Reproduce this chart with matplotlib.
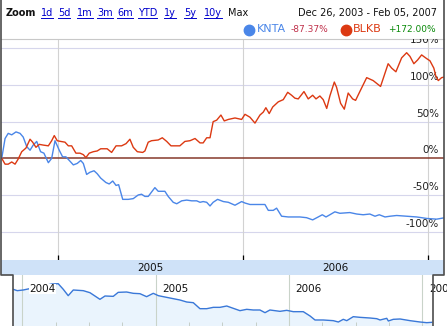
import matplotlib
matplotlib.use("Agg")
import matplotlib.pyplot as plt
from matplotlib.lines import Line2D
from matplotlib.transforms import IdentityTransform

# main chart: % change since start of range, x in fractional years
knta_year = [2004.696, 2004.714, 2004.731, 2004.750, 2004.773, 2004.795, 2004.812, 2004.831, 2004.849, 2004.866,
             2004.885, 2004.906, 2004.924, 2004.948, 2004.966, 2004.984, 2005.007, 2005.025, 2005.043, 2005.065,
             2005.083, 2005.104, 2005.123, 2005.137, 2005.155, 2005.173, 2005.195, 2005.212, 2005.231, 2005.259,
             2005.277, 2005.296, 2005.314, 2005.328, 2005.350, 2005.380, 2005.407, 2005.434, 2005.452, 2005.470,
             2005.488, 2005.524, 2005.542, 2005.578, 2005.596, 2005.623, 2005.642, 2005.669, 2005.696, 2005.723,
             2005.750, 2005.768, 2005.785, 2005.804, 2005.822, 2005.839, 2005.863, 2005.894, 2005.921, 2005.957,
             2005.993, 2006.011, 2006.038, 2006.119, 2006.137, 2006.164, 2006.182, 2006.209, 2006.245, 2006.308,
             2006.344, 2006.377, 2006.407, 2006.429, 2006.449, 2006.470, 2006.497, 2006.524, 2006.578, 2006.615,
             2006.650, 2006.686, 2006.714, 2006.737, 2006.768, 2006.795, 2006.831, 2006.885, 2006.939, 2006.993,
             2007.047, 2007.092]
knta_pct = [0, 27, 34, 32, 36, 34, 29, 16, 11, 18,
            23, 9, 7, -6, 0, 24, 11, 2, 2, -4,
            -9, -7, -3, -7, -22, -19, -17, -21, -27, -33,
            -35, -31, -37, -36, -56, -56, -55, -50, -49, -52,
            -52, -40, -45, -45, -52, -60, -62, -58, -57, -58,
            -58, -60, -59, -60, -65, -60, -56, -59, -60, -64,
            -59, -61, -63, -63, -71, -71, -68, -79, -80, -80,
            -81, -84, -80, -77, -80, -77, -73, -75, -74, -76,
            -77, -76, -79, -77, -80, -79, -78, -79, -80, -82,
            -83, -81]

blkb_year = [2004.696, 2004.714, 2004.731, 2004.750, 2004.768, 2004.785, 2004.804, 2004.827, 2004.849, 2004.863,
             2004.881, 2004.899, 2004.921, 2004.948, 2004.966, 2004.980, 2004.996, 2005.015, 2005.038, 2005.056,
             2005.074, 2005.097, 2005.119, 2005.137, 2005.151, 2005.169, 2005.191, 2005.212, 2005.231, 2005.266,
             2005.290, 2005.314, 2005.344, 2005.368, 2005.389, 2005.407, 2005.429, 2005.458, 2005.470, 2005.488,
             2005.506, 2005.542, 2005.564, 2005.588, 2005.611, 2005.659, 2005.686, 2005.714, 2005.741, 2005.768,
             2005.785, 2005.804, 2005.822, 2005.839, 2005.858, 2005.881, 2005.899, 2005.921, 2005.957, 2005.993,
             2006.011, 2006.038, 2006.065, 2006.092, 2006.110, 2006.124, 2006.142, 2006.161, 2006.191, 2006.218,
             2006.242, 2006.263, 2006.281, 2006.299, 2006.330, 2006.353, 2006.377, 2006.395, 2006.416, 2006.434,
             2006.453, 2006.470, 2006.494, 2006.506, 2006.528, 2006.548, 2006.569, 2006.593, 2006.609, 2006.632,
             2006.669, 2006.704, 2006.744, 2006.785, 2006.804, 2006.827, 2006.858, 2006.885, 2006.903, 2006.924,
             2006.944, 2006.966, 2006.993, 2007.011, 2007.032, 2007.043, 2007.056, 2007.074, 2007.092]
blkb_pct = [0, -8, -8, -5, -8, -1, 9, 14, 26, 22,
            15, 19, 18, 17, 24, 31, 24, 23, 22, 17,
            17, 7, 7, 5, 1, 7, 9, 10, 13, 13,
            8, 17, 17, 20, 26, 15, 9, 8, 10, 22,
            24, 25, 28, 23, 17, 17, 23, 24, 27, 21,
            21, 28, 28, 50, 52, 59, 51, 53, 55, 53,
            60, 56, 48, 59, 63, 69, 61, 70, 77, 80,
            90, 86, 82, 81, 91, 81, 86, 81, 85, 80,
            68, 85, 104, 97, 75, 67, 89, 81, 79, 91,
            110, 106, 98, 129, 123, 118, 137, 144, 139, 129,
            134, 141, 136, 133, 123, 112, 106, 110, 111]

# navigator strip: KNTA price over the full range
nav_year = [2003.932, 2003.962, 2004.007, 2004.220, 2004.269, 2004.307, 2004.344, 2004.382, 2004.457, 2004.507,
            2004.582, 2004.620, 2004.682, 2004.719, 2004.782, 2004.832, 2004.882, 2004.932, 2004.982, 2005.020,
            2005.082, 2005.182, 2005.233, 2005.282, 2005.332, 2005.383, 2005.432, 2005.482, 2005.533, 2005.582,
            2005.632, 2005.683, 2005.732, 2005.782, 2005.820, 2005.857, 2005.932, 2005.983, 2006.032, 2006.107,
            2006.158, 2006.195, 2006.257, 2006.332, 2006.370, 2006.407, 2006.433, 2006.482, 2006.533, 2006.608,
            2006.658, 2006.683, 2006.733, 2006.745, 2006.782, 2006.833, 2006.908, 2006.983, 2007.033, 2007.070]
nav_price = [14.63, 14.15, 14.39, 16.54, 16.65, 14.63, 12.36, 14.39, 14.15, 13.43,
             11.05, 12.24, 12.12, 13.55, 13.67, 13.20, 13.07, 12.00, 13.20, 12.36,
             11.76, 10.81, 10.09, 9.85, 7.70, 7.70, 8.18, 8.18, 8.66, 7.83,
             6.99, 7.47, 7.23, 7.23, 6.27, 7.23, 6.75, 7.11, 6.63, 6.63,
             5.08, 3.65, 3.65, 3.41, 2.93, 3.89, 3.41, 4.84, 4.60, 4.36,
             4.12, 3.65, 4.25, 3.29, 3.89, 4.01, 3.41, 2.93, 2.69, 2.81]

pct_ticks = [-100, -50, 0, 50, 100, 150]
year_ticks = [2005, 2006, 2007]
band_labels = ["2005", "2006"]
nav_years = [2004, 2005, 2006, 2007]
zoom_links = ["1d", "5d", "1m", "3m", "6m", "YTD", "1y", "5y", "10y"]
date_range = "Dec 26, 2003 - Feb 05, 2007"
legend_names = ["KNTA", "BLKB"]
legend_changes = ["-87.37%", "+172.00%"]

BLUE = "#4a86e8"
RED = "#dc3912"
W, H = 447, 326


def fx(px):
    return px / W


def fy(py):
    return 1 - py / H


plt.rcParams['font.family'] = ['DejaVu Sans']
fig = plt.figure(figsize=(W / 100, H / 100), dpi=100)

# main chart
ax = fig.add_axes([fx(1), fy(260), 443 / W, 221 / H])
for v in pct_ticks:
    if v == 0:
        ax.axhline(v, color="#86392b", lw=1.1, zorder=2)
    else:
        ax.axhline(v, color="#d6d6ec", lw=0.8, zorder=1)
    ax.text(0.9887, v + 10.9, f"{v}%", transform=ax.get_yaxis_transform(),
            ha="right", va="center", fontsize=7.5, color="#222222", clip_on=True)
for y in year_ticks:
    ax.axvline(y, color="#d2d2d2", lw=0.8, zorder=1)
ax.plot(knta_year, knta_pct, color=BLUE, lw=1.0, zorder=3)
ax.plot(blkb_year, blkb_pct, color=RED, lw=1.0, zorder=3)
ax.set_xticks(year_ticks)
ax.set_yticks([])
ax.set_xlim(2004.692, 2007.087)
ax.set_ylim(-138.7, 162.7)
ax.tick_params(axis="x", direction="in", length=3.5, width=0.9, color="black", labelbottom=False)
for s in ["left", "right", "bottom"]:
    ax.spines[s].set_visible(False)
ax.spines["top"].set_color("#c8c8c8")
ax.spines["top"].set_linewidth(0.8)

# year band under the main chart
band = fig.add_axes([fx(1), fy(275), 443 / W, 15 / H])
band.set_facecolor("#cfe2f8")
band.set_xlim(ax.get_xlim())
band.set_ylim(0, 1)
for y, lab in zip(year_ticks, band_labels):
    band.text(y + 0.5, 0.45, lab, ha="center", va="center", fontsize=7.5, color="#111111")
band.set_xticks([])
band.set_yticks([])
for s in band.spines.values():
    s.set_visible(False)

# navigator
nav = fig.add_axes([fx(13), 0, (W - 13) / W, 51 / H])
for y in nav_years:
    nav.axvline(y, color="#c9d3c9", lw=0.8, zorder=1)
    nav.text(y + 0.05, 14.75, str(y), ha="left", va="center", fontsize=7.5, color="#111111",
             zorder=4, bbox=dict(facecolor="white", edgecolor="none", pad=0.3))
nav.fill_between(nav_year, nav_price, 1.5, color="#eaf4fd", zorder=0)
nav.plot(nav_year, nav_price, color="#3a78d8", lw=1.0, zorder=3)
nav.set_xticks([])
nav.set_xticks([y + q / 4 for y in range(2004, 2007) for q in range(1, 4)], minor=True)
nav.set_yticks([])
nav.set_xlim(2003.930, 2007.185)
nav.set_ylim(1.5, 19.76)
nav.tick_params(axis="x", which="minor", direction="in", length=3, color="#c0c8c0")
for s in nav.spines.values():
    s.set_visible(False)

# dark outline around chart and navigator brackets
dark = "#4d4d4d"
fig.add_artist(Line2D([fx(1), fx(1), fx(13), fx(13)], [fy(0), fy(275), fy(275), fy(326)],
                      transform=fig.transFigure, color=dark, lw=1.2))
fig.add_artist(Line2D([fx(444), fx(444), fx(433), fx(433)], [fy(0), fy(275), fy(275), fy(326)],
                      transform=fig.transFigure, color=dark, lw=1.2))

# header
fig.text(fx(6), fy(13), "Zoom", fontsize=7, weight="bold", va="center", color="#111111")
link_x = [41, 58, 77, 97, 117, 138, 164, 184, 204]
links = []
for lx, lab in zip(link_x, zoom_links):
    links.append(fig.text(fx(lx), fy(13), lab, fontsize=7, va="center", color="#0000cc"))
fig.text(fx(228), fy(13), "Max", fontsize=7, va="center", color="#111111")
fig.text(fx(437), fy(13), date_range, fontsize=7, va="center", ha="right", color="#111111")

# legend
for mx, tx, cx, col, ccol, name, chg in [(249, 257, 290.5, BLUE, "#c0304a", legend_names[0], legend_changes[0]),
                                         (345.7, 353, 388, RED, "#0a8a0a", legend_names[1], legend_changes[1])]:
    fig.add_artist(Line2D([fx(mx)], [fy(29.5)], marker="o", ms=7.5, color=col, lw=0,
                          transform=fig.transFigure))
    fig.text(fx(tx), fy(29.5), name, fontsize=8, va="center", color=col)
    fig.text(fx(cx), fy(29.5), chg, fontsize=6.5, va="center", color=ccol)

# underline the zoom links
fig.canvas.draw()
r = fig.canvas.get_renderer()
for t in links:
    bb = t.get_window_extent(r)
    fig.add_artist(Line2D([bb.x0, bb.x1], [bb.y0 + 0.5, bb.y0 + 0.5], transform=IdentityTransform(),
                          color="#0000cc", lw=0.7))

fig.savefig("out.png", dpi=100)
